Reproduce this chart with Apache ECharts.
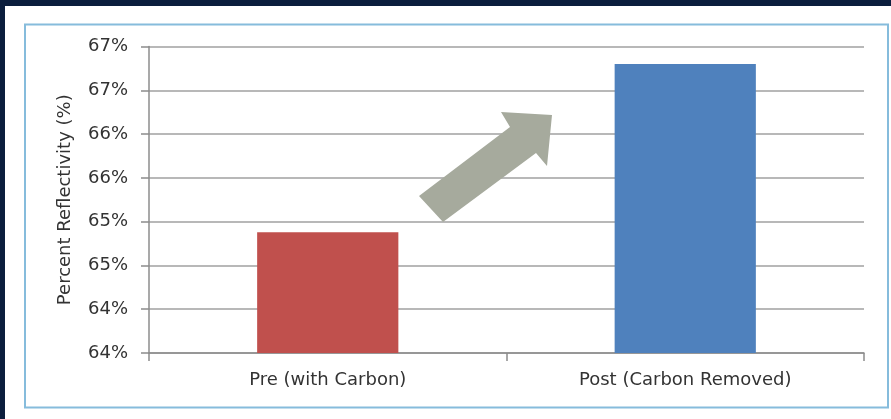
<!DOCTYPE html>
<html><head><meta charset="utf-8">
<script src="https://cdn.jsdelivr.net/npm/echarts@6/dist/echarts.min.js"></script>
<style>html,body{margin:0;padding:0;background:#0b1e3d;}#c{width:891px;height:419px;}</style>
</head><body><div id="c"></div>
<script>
const categories = ['Pre (with Carbon)', 'Post (Carbon Removed)'];
const reflectivity = [65.38, 67.30];
const barColors = ['#c0504d', '#4f81bd'];
const tickLabels = ['64%', '64%', '65%', '65%', '66%', '66%', '67%', '67%'];
const yMin = 64, yMax = 67.5, yStep = 0.5;

const chart = echarts.init(document.getElementById('c'));
const font = '"DejaVu Sans", Verdana, sans-serif';
const txt = '#333333';
chart.setOption({
  backgroundColor: '#0b1e3d',
  animation: false,
  graphic: [
    { type: 'rect', shape: { x: 5, y: 6, width: 886, height: 413 }, style: { fill: '#ffffff' }, z: -10 },
    { type: 'rect', shape: { x: 25, y: 24.5, width: 863, height: 383 }, style: { fill: 'none', stroke: '#86bcdc', lineWidth: 2 }, z: -9 },
    { type: 'polygon', shape: { points: [[419,196],[510,127],[501,112],[552,115],[547,166],[536,153],[443,222]] },
      style: { fill: '#a6aa9d' }, z: 100 }
  ],
  grid: { left: 149, right: 27, top: 46.5, bottom: 66 },
  xAxis: {
    type: 'category', data: categories,
    axisLine: { lineStyle: { color: '#8c8c8c', width: 1.5 } },
    axisTick: { show: true, length: 8, lineStyle: { color: '#8c8c8c', width: 1.5 } },
    axisLabel: { color: txt, fontFamily: font, fontSize: 18, margin: 18 }
  },
  yAxis: {
    type: 'value', min: yMin, max: yMax, interval: yStep,
    name: 'Percent Reflectivity (%)', nameLocation: 'middle', nameGap: 75, nameRotate: 90,
    nameTextStyle: { color: txt, fontFamily: font, fontSize: 18 },
    axisLine: { show: true, lineStyle: { color: '#8c8c8c', width: 1.5 } },
    axisTick: { show: true, length: 8, lineStyle: { color: '#8c8c8c', width: 1.5 } },
    splitLine: { lineStyle: { color: '#a0a0a0', width: 1.5 } },
    axisLabel: { color: txt, fontFamily: font, fontSize: 18, margin: 21,
      formatter: v => tickLabels[Math.round((v - yMin) / yStep)] }
  },
  series: [{
    type: 'bar', barWidth: '39.5%',
    data: reflectivity.map((v, i) => ({ value: v, itemStyle: { color: barColors[i] } }))
  }]
});
</script></body></html>
